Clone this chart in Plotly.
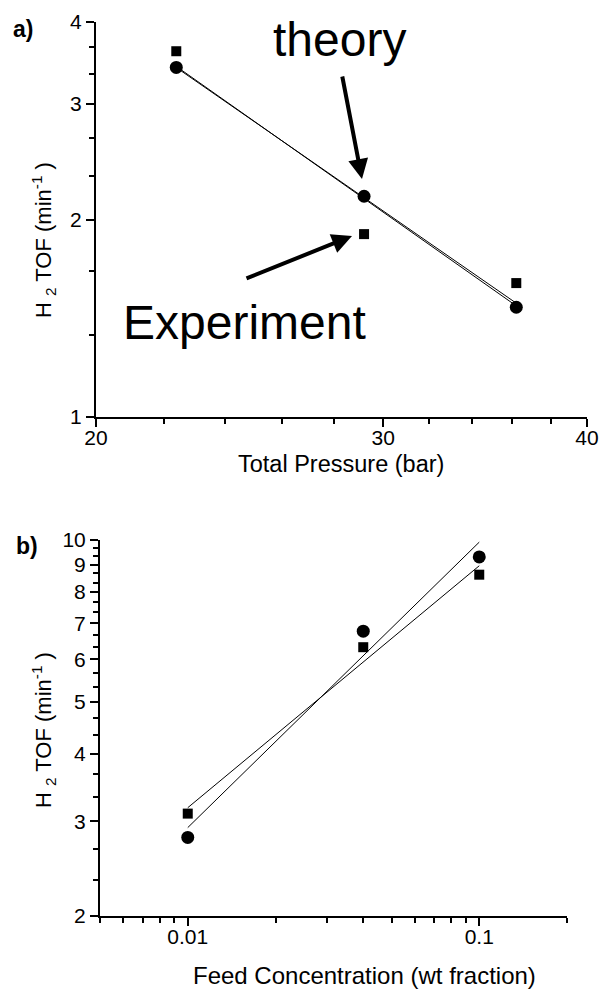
import numpy as np
import plotly.graph_objects as go

# ---- data ----
# a) H2 TOF vs total pressure
pressure_bar = [22.4, 29.2, 36.2]
tof_theory_a = [3.41, 2.17, 1.47]
tof_expt_a = [3.61, 1.90, 1.60]

# b) H2 TOF vs feed concentration
feed_wt = [0.01, 0.04, 0.1]
tof_theory_b = [2.80, 6.77, 9.30]
tof_expt_b = [3.10, 6.32, 8.62]

# tick positions
a_x_major = [20, 30, 40]
a_x_minor = [22, 24, 26, 28, 32, 34, 36, 38]
a_y_major = [1, 2, 3, 4]
a_y_minor = [v + k / 3 for v in range(1, 4) for k in (1, 2)]
b_x_major = [0.01, 0.1]
b_x_labels = ["0.01", "0.1"]
b_x_minor = [0.005, 0.006, 0.007, 0.008, 0.009,
             0.02, 0.03, 0.04, 0.05, 0.06, 0.07, 0.08, 0.09, 0.2]
b_y_major = [2, 3, 4, 5, 6, 7, 8, 9, 10]
b_y_minor = [v + k / 3 for v in range(2, 10) for k in (1, 2)]

FONT = "Arial, Liberation Sans, sans-serif"
W, H = 603, 989


def px(x):
    return x / W


def py(y):
    return 1 - y / H


def loglog_fit(x, y):
    lx, ly = np.log10(x), np.log10(y)
    k, b = np.polyfit(lx, ly, 1)
    xe = np.array([min(x), max(x)])
    return xe, 10 ** (k * np.log10(xe) + b)


fig = go.Figure()

for xs, ys, xa, ya in [
    (pressure_bar, tof_theory_a, "x", "y"),
    (pressure_bar, tof_expt_a, "x", "y"),
    (feed_wt, tof_theory_b, "x2", "y2"),
    (feed_wt, tof_expt_b, "x2", "y2"),
]:
    fx, fy = loglog_fit(xs, ys)
    fig.add_trace(go.Scatter(x=fx, y=fy, mode="lines", xaxis=xa, yaxis=ya,
                             line=dict(color="black", width=1), showlegend=False,
                             hoverinfo="skip"))

marker_sets = [
    (pressure_bar, tof_theory_a, "circle", 13, "x", "y"),
    (pressure_bar, tof_expt_a, "square", 10, "x", "y"),
    (feed_wt, tof_theory_b, "circle", 13, "x2", "y2"),
    (feed_wt, tof_expt_b, "square", 10, "x2", "y2"),
]
for xs, ys, sym, sz, xa, ya in marker_sets:
    fig.add_trace(go.Scatter(x=xs, y=ys, mode="markers", xaxis=xa, yaxis=ya,
                             marker=dict(symbol=sym, size=sz, color="black",
                                         line=dict(width=0)),
                             showlegend=False))

axis_common = dict(
    type="log", showgrid=False, zeroline=False, showline=True, linecolor="black",
    linewidth=2, ticks="outside", ticklen=8, tickwidth=1.5, tickcolor="black",
    mirror=False, automargin=False,
    tickfont=dict(family=FONT, size=21, color="black"),
)


def minor(vals):
    return dict(tickmode="array", tickvals=vals, ticks="outside", ticklen=5,
                tickwidth=1.5, tickcolor="black", showgrid=False)


fig.update_layout(
    width=W, height=H, autosize=False,
    margin=dict(l=0, r=0, t=0, b=0, pad=0),
    paper_bgcolor="white", plot_bgcolor="white",
    font=dict(family=FONT, color="black"),
    xaxis=dict(axis_common, domain=[px(96), px(587)], anchor="y",
               range=[np.log10(20), np.log10(40)], ticklabelstandoff=-7,
               tickmode="array", tickvals=a_x_major,
               ticktext=[str(v) for v in a_x_major], minor=minor(a_x_minor)),
    yaxis=dict(axis_common, domain=[py(417), py(22)], anchor="x",
               range=[0, np.log10(4)],
               tickmode="array", tickvals=a_y_major,
               ticktext=[str(v) for v in a_y_major], minor=minor(a_y_minor)),
    xaxis2=dict(axis_common, domain=[px(100), px(567)], anchor="y2",
                range=[np.log10(0.005), np.log10(0.2)], ticklabelstandoff=-7,
                tickmode="array", tickvals=b_x_major, ticktext=b_x_labels,
                minor=minor(b_x_minor)),
    yaxis2=dict(axis_common, domain=[py(916), py(540)], anchor="x2",
                range=[np.log10(2), 1],
                tickmode="array", tickvals=b_y_major,
                ticktext=[str(v) for v in b_y_major], minor=minor(b_y_minor)),
)

ytitle = "H <sub>2</sub> TOF (min<sup>-1</sup> )"
texts = [
    dict(text="a)", x=px(23), y=py(29), size=23, bold=True),
    dict(text="b)", x=px(27), y=py(546), size=23, bold=True),
    dict(text="Total Pressure (bar)", x=px(341), y=py(464), size=23.5),
    dict(text="Feed Concentration (wt fraction)", x=px(364), y=py(975), size=24),
    dict(text="theory", x=px(339), y=py(40), size=48),
    dict(text="Experiment", x=px(244), y=py(322), size=48),
]
for t in texts:
    fig.add_annotation(
        text=f"<b>{t['text']}</b>" if t.get("bold") else t["text"],
        x=t["x"], y=t["y"], xref="paper", yref="paper",
        xanchor="center", yanchor="middle", showarrow=False,
        font=dict(family=FONT, size=t["size"], color="black"))

for yc in (py(240), py(730)):
    fig.add_annotation(text=ytitle, x=px(43), y=yc, xref="paper", yref="paper",
                       xanchor="center", yanchor="middle", textangle=-90,
                       showarrow=False, font=dict(family=FONT, size=22, color="black"))

# pointer arrows
for hx, hy, ax, ay in [(362, 179, -20, -104), (352, 236, -107, 43)]:
    fig.add_annotation(text="", x=px(hx), y=py(hy), xref="paper", yref="paper",
                       ax=ax, ay=ay, showarrow=True, arrowhead=2, arrowsize=1,
                       arrowwidth=4, arrowcolor="black", standoff=0)

fig.write_html("out.html")
